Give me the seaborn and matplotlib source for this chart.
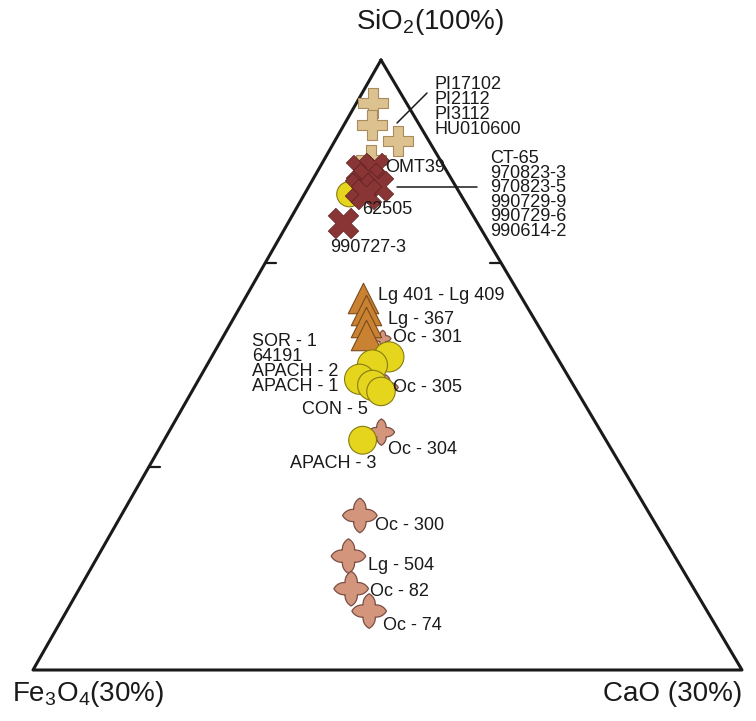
import numpy as np
import pandas as pd
import matplotlib.pyplot as plt
from matplotlib.path import Path
import seaborn as sns

# compositions (wt%), plotted in a SiO2 70-100 / Fe3O4 0-30 / CaO 0-30 window
tan_sio2 = [97.9, 96.8, 96.0, 95.1]
tan_cao = [0.7, 1.2, 2.7, 2.0]

red_sio2 = [94.6, 94.7, 94.2, 93.8, 93.7, 93.4, 92.0]
red_cao = [1.8, 2.3, 2.3, 2.9, 2.2, 2.6, 2.3]

yellow_sio2 = [93.4, 85.4, 85.0, 84.3, 84.0, 83.7, 81.3]
yellow_cao = [1.9, 7.5, 7.0, 6.8, 7.5, 8.0, 8.4]

orange_sio2 = [88.3, 87.7, 87.1, 86.5]
orange_cao = [5.0, 5.4, 5.7, 6.0]

pink_sio2 = [86.3, 83.9, 81.7, 77.6, 75.6, 74.0, 72.9]
pink_cao = [6.8, 8.1, 9.0, 10.1, 10.6, 11.5, 12.8]

pi_names = ['PI17102', 'PI2112', 'PI3112', 'HU010600']
ct_names = ['CT-65', '970823-3', '970823-5', '990729-9', '990729-6', '990614-2']
sor_names = ['SOR - 1', '64191', 'APACH - 2', 'APACH - 1']

# triangle corners in pixel space
APEX = (381, 60)
LEFT = (33, 670)
RIGHT = (742, 670)


def to_xy(sio2, cao):
    a = (np.asarray(sio2) - 70) / 30
    c = np.asarray(cao) / 30
    b = 1 - a - c
    x = a * APEX[0] + b * LEFT[0] + c * RIGHT[0]
    y = a * APEX[1] + b * LEFT[1] + c * RIGHT[1]
    return x, y


def frame(sio2, cao):
    x, y = to_xy(sio2, cao)
    return pd.DataFrame({'x': x, 'y': y})


# four-lobed marker for the pink group
th = np.linspace(0, 2 * np.pi, 241)
r = 0.5 + 0.5 * (1 - np.abs(np.sin(2 * th))) ** 0.55
quatrefoil = Path(np.column_stack([r * np.cos(th), r * np.sin(th)]), closed=True)

sns.set_style('white')
plt.rcParams['font.family'] = ['Liberation Sans', 'DejaVu Sans']
plt.rcParams['mathtext.default'] = 'regular'

fig = plt.figure(figsize=(7.56, 7.21), dpi=100)
ax = fig.add_axes([0, 0, 1, 1])
ax.set_xlim(0, 756)
ax.set_ylim(721, 0)
ax.axis('off')

# triangle and ticks
tri = np.array([APEX, LEFT, RIGHT, APEX])
ax.plot(tri[:, 0], tri[:, 1], color='#1a1a1a', lw=2.2, zorder=1)
for s in [90, 80]:
    x, y = to_xy(s, 0)
    ax.plot([x, x + 11], [y, y], color='#1a1a1a', lw=1.6)
x, y = to_xy(90, 10)
ax.plot([x, x - 11], [y, y], color='#1a1a1a', lw=1.6)

# markers
pink = frame(pink_sio2, pink_cao)
pink_sizes = [140, 330, 360, 620, 620, 620, 620]
sns.scatterplot(data=pink, x='x', y='y', marker=quatrefoil, s=pink_sizes,
                color='#d3967c', edgecolor='#7a4e44', linewidth=0.9, ax=ax, zorder=2, legend=False)

sns.scatterplot(data=frame(tan_sio2, tan_cao), x='x', y='y', marker='P', s=440,
                color='#dcc28e', edgecolor='#a98b5e', linewidth=0.8, ax=ax, zorder=3, legend=False)

sns.scatterplot(data=frame(orange_sio2, orange_cao), x='x', y='y', marker='^', s=480,
                color='#c98132', edgecolor='#7a4a1c', linewidth=0.8, ax=ax, zorder=4, legend=False)

yellow = frame(yellow_sio2, yellow_cao)
sns.scatterplot(data=yellow, x='x', y='y', s=[330, 470, 470, 470, 470, 420, 400],
                color='#e6d51d', edgecolor='#857b12', linewidth=0.8, ax=ax, zorder=5, legend=False)

sns.scatterplot(data=frame(red_sio2, red_cao), x='x', y='y', marker='X', s=480,
                color='#8a3535', edgecolor='#5c2020', linewidth=0.5, ax=ax, zorder=6, legend=False)

# leader lines
ax.plot([397, 427], [123, 93], color='#1a1a1a', lw=1.1, zorder=7)
ax.plot([397, 477], [187, 187], color='#1a1a1a', lw=1.1, zorder=7)

# sample labels
lab = dict(fontsize=13, color='#1a1a1a', va='center', ha='left', zorder=8)
ax.text(435, 107, '\n'.join(pi_names), linespacing=0.86, **lab)
ax.text(490, 195, '\n'.join(ct_names), linespacing=0.81, **lab)
ax.text(252, 364, '\n'.join(sor_names), linespacing=0.85, **lab)
single = [
    ('OMT39', 385, 167), ('62505', 362, 210), ('990727-3', 330, 248),
    ('Lg 401 - Lg 409', 378, 295), ('Lg - 367', 388, 320), ('Oc - 301', 393, 338),
    ('Oc - 305', 393, 387), ('CON - 5', 302, 410), ('Oc - 304', 388, 450),
    ('APACH - 3', 290, 463), ('Oc - 300', 375, 525), ('Lg - 504', 368, 566),
    ('Oc - 82', 370, 592), ('Oc - 74', 383, 625),
]
for text, x, y in single:
    ax.text(x, y, text, **lab)

# corner labels
corner = dict(fontsize=20, color='#1a1a1a', va='center')
ax.text(430, 22, '$SiO_2$(100%)', ha='center', **corner)
ax.text(12, 694, '$Fe_3O_4$(30%)', ha='left', **corner)
ax.text(742, 694, 'CaO (30%)', ha='right', **corner)

fig.savefig('out.png', dpi=100, facecolor='white')
